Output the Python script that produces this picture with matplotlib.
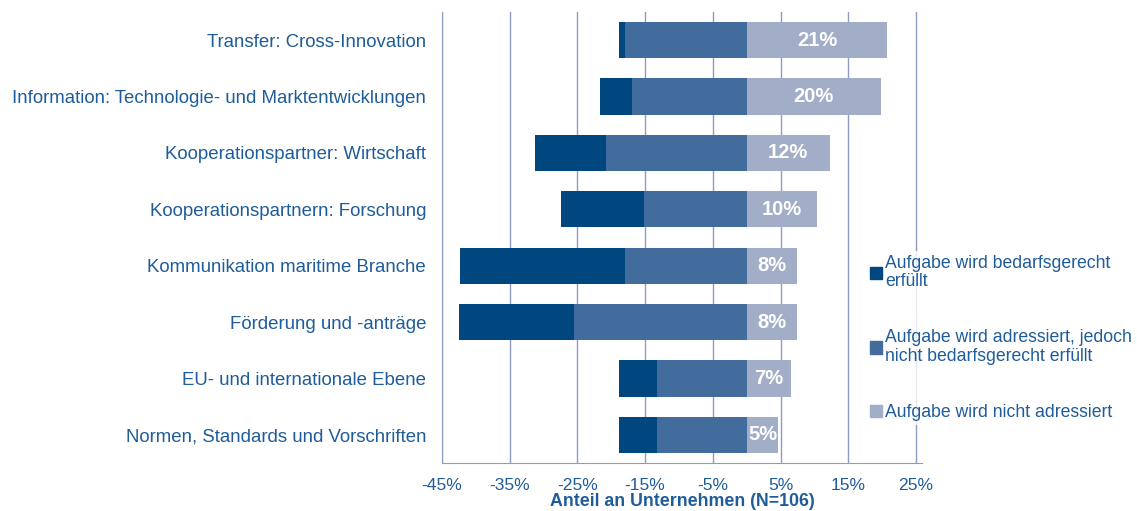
import matplotlib.pyplot as plt
from matplotlib.patches import Patch
import numpy as np

plt.rcParams['font.family'] = ['Liberation Sans', 'DejaVu Sans']

# Daten (Anteile in %, N=106)
kategorien = ['Transfer: Cross-Innovation',
              'Information: Technologie- und Marktentwicklungen',
              'Kooperationspartner: Wirtschaft',
              'Kooperationspartnern: Forschung',
              'Kommunikation maritime Branche',
              'Förderung und -anträge',
              'EU- und internationale Ebene',
              'Normen, Standards und Vorschriften']
erfuellt = [0.9, 4.7, 10.4, 12.3, 24.5, 17.0, 5.7, 5.7]
adressiert = [17.9, 17.0, 20.8, 15.1, 17.9, 25.5, 13.2, 13.2]
nicht_adressiert = [20.8, 19.8, 12.3, 10.4, 7.5, 7.5, 6.6, 4.7]

legende = ['Aufgabe wird bedarfsgerecht\nerfüllt',
           'Aufgabe wird adressiert, jedoch\nnicht bedarfsgerecht erfüllt',
           'Aufgabe wird nicht adressiert']

c_dunkel = '#00467F'
c_mittel = '#416C9B'
c_hell = '#A2ADC8'
c_text = '#1F5C9A'
c_grid = '#8E9CC2'

fig = plt.figure(figsize=(11.37, 5.11), dpi=100)
ax = fig.add_axes([442 / 1137, 1 - 463 / 511, (922 - 442) / 1137, (463 - 12) / 511])

y = np.arange(len(kategorien))
h = 0.645
adr = np.array(adressiert)
erf = np.array(erfuellt)
nad = np.array(nicht_adressiert)

ax.barh(y, -adr, height=h, color=c_mittel, zorder=3)
ax.barh(y, -erf, left=-adr, height=h, color=c_dunkel, zorder=3)
ax.barh(y, nad, height=h, color=c_hell, zorder=3)

# Beschriftung der hellen Balken
for yi, v in zip(y, nad):
    ax.text(v / 2, yi, f'{v:.0f}%', ha='center', va='center', color='white',
            fontsize=14.5, fontweight='bold', zorder=4)

ax.set_ylim(len(kategorien) - 0.5, -0.5)
ax.set_xlim(-45, 25.9)
ax.set_yticks(y)
ax.set_yticklabels(kategorien, fontsize=13.4, color=c_text)
xt = np.arange(-45, 26, 10)
ax.set_xticks(xt)
ax.set_xticklabels([f'{t}%' for t in xt], fontsize=12.6, color=c_text)
ax.tick_params(axis='y', length=0, pad=11.5)
ax.tick_params(axis='x', length=0, pad=11)
ax.set_xlabel('Anteil an Unternehmen (N=106)', fontsize=12.8, fontweight='bold',
              color=c_text, labelpad=0)

ax.grid(True, axis='x', color=c_grid, linewidth=1, zorder=0)
for s in ['top', 'right']:
    ax.spines[s].set_visible(False)
for s in ['left', 'bottom']:
    ax.spines[s].set_color(c_grid)

handles = [Patch(color=c_dunkel), Patch(color=c_mittel), Patch(color=c_hell)]
leg = fig.legend(handles, legende, loc='upper left', bbox_to_anchor=(866 / 1137, 1 - 251 / 511),
                 frameon=True, fontsize=12.7, handlelength=0.7, handleheight=0.7,
                 handletextpad=0.2, labelspacing=2.2, borderpad=0.2, borderaxespad=0)
leg.get_frame().set_facecolor('white')
leg.get_frame().set_edgecolor('none')
leg.set_zorder(10)
for t in leg.get_texts():
    t.set_color(c_text)
    t.set_linespacing(1.15)

fig.savefig('out.png', dpi=100)
